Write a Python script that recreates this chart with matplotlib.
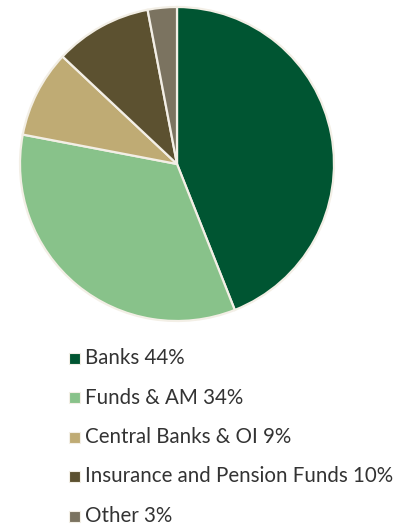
import matplotlib.pyplot as plt
from matplotlib.patches import Rectangle

# 各类投资者占比
labels = ['Banks', 'Funds & AM', 'Central Banks & OI', 'Insurance and Pension Funds', 'Other']
shares = [44, 34, 9, 10, 3]
colors = ['#005532', '#88c28a', '#bfab74', '#5c5130', '#7b7360']

W, H = 394, 527
fig = plt.figure(figsize=(W / 100, H / 100), dpi=100)

# 饼图区域
ax = fig.add_axes([20 / W, 206 / H, 314 / W, 314 / H])
wedges, _ = ax.pie(shares, colors=colors, startangle=90, counterclock=False,
                   wedgeprops=dict(edgecolor='#f3efe6', linewidth=1.6))
ax.set_xlim(-1.0, 1.0)
ax.set_ylim(-1.0, 1.0)
ax.set_aspect('equal')

# 图例：方块 + 文字，逐行排列
y0, step = 358, 39.5
for i, (w, l, s) in enumerate(zip(wedges, labels, shares)):
    y = y0 + step * i
    fig.patches.append(Rectangle((69 / W, 1 - (y + 5.5) / H), 11 / W, 11 / H,
                                 transform=fig.transFigure, facecolor=w.get_facecolor(),
                                 edgecolor='#f3efe6', linewidth=0.8))
    fig.text(85 / W, 1 - y / H, f'{l} {s}%', va='center', ha='left',
             family='Lato', fontsize=14.8, color='#333333')

fig.savefig('out.png', dpi=100)
